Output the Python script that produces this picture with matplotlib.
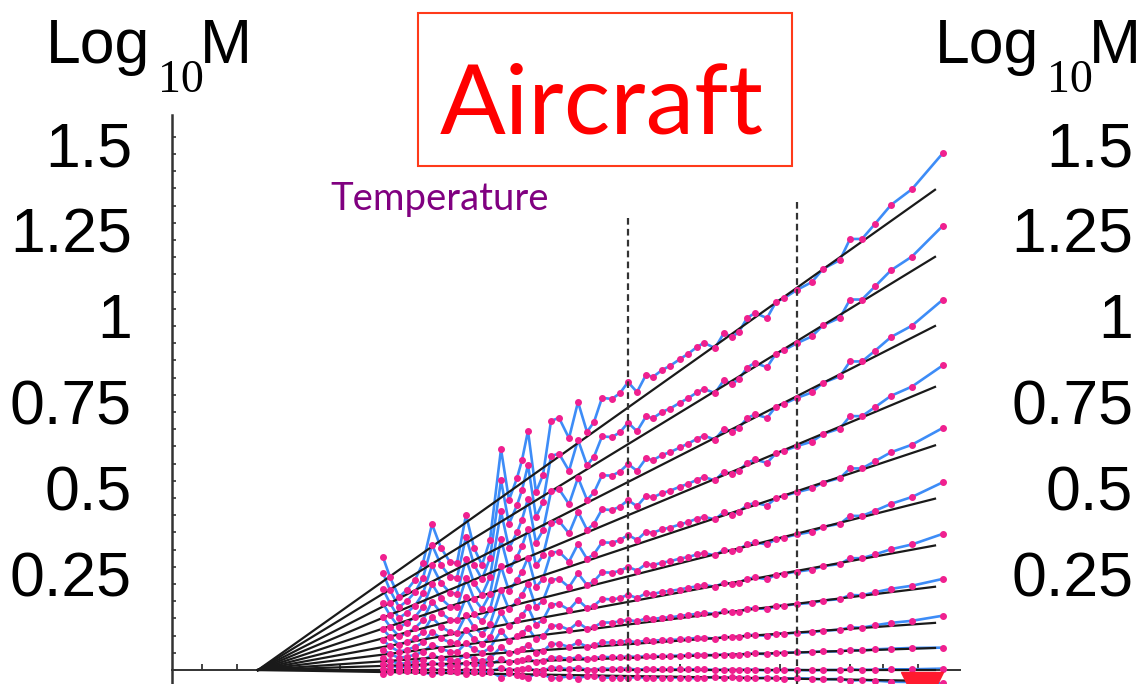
import matplotlib
matplotlib.use('Agg')
import matplotlib.pyplot as plt
from matplotlib import transforms
from matplotlib.patches import Rectangle
import numpy as np

# ---------------- data ----------------
x_vals = [2.11, 2.18, 2.27, 2.35, 2.43, 2.51, 2.60, 2.69, 2.78, 2.85, 2.94, 3.02, 3.10, 3.18,
          3.29, 3.37, 3.45, 3.50, 3.56, 3.64, 3.71, 3.79, 3.87, 3.97, 4.06, 4.15, 4.22, 4.30,
          4.40, 4.48, 4.56, 4.65, 4.74, 4.81, 4.90, 4.98, 5.08, 5.16, 5.25, 5.32, 5.43, 5.52,
          5.60, 5.67, 5.75, 5.83, 5.95, 6.04, 6.12, 6.25, 6.40, 6.51, 6.68, 6.78, 6.90, 7.03,
          7.19, 7.40, 7.71]

series_1 = [0.328, 0.270, 0.212, 0.233, 0.262, 0.311, 0.424, 0.355, 0.314, 0.311, 0.451, 0.355, 0.305, 0.378,
            0.642, 0.494, 0.558, 0.610, 0.695, 0.517, 0.567, 0.724, 0.733, 0.674, 0.779, 0.692, 0.721, 0.791,
            0.788, 0.805, 0.837, 0.808, 0.858, 0.852, 0.872, 0.884, 0.904, 0.919, 0.939, 0.951, 0.936, 0.980,
            0.968, 0.983, 1.023, 1.038, 1.023, 1.070, 1.081, 1.105, 1.128, 1.166, 1.192, 1.253, 1.253, 1.297,
            1.352, 1.398, 1.503]
series_2 = [0.282, 0.232, 0.183, 0.201, 0.226, 0.268, 0.364, 0.305, 0.271, 0.268, 0.388, 0.306, 0.264, 0.326,
            0.551, 0.425, 0.479, 0.523, 0.596, 0.445, 0.488, 0.622, 0.629, 0.579, 0.669, 0.595, 0.620, 0.679,
            0.677, 0.691, 0.719, 0.694, 0.737, 0.732, 0.750, 0.760, 0.777, 0.790, 0.807, 0.817, 0.805, 0.843,
            0.832, 0.845, 0.879, 0.893, 0.880, 0.920, 0.930, 0.950, 0.970, 1.002, 1.024, 1.077, 1.077, 1.115,
            1.162, 1.202, 1.292]
series_3 = [0.235, 0.194, 0.151, 0.167, 0.187, 0.223, 0.304, 0.253, 0.225, 0.222, 0.323, 0.253, 0.218, 0.270,
            0.461, 0.354, 0.400, 0.437, 0.498, 0.370, 0.406, 0.519, 0.526, 0.482, 0.559, 0.495, 0.516, 0.566,
            0.565, 0.577, 0.599, 0.579, 0.615, 0.610, 0.625, 0.633, 0.647, 0.658, 0.672, 0.681, 0.670, 0.702,
            0.693, 0.704, 0.732, 0.743, 0.733, 0.766, 0.774, 0.791, 0.807, 0.835, 0.854, 0.897, 0.897, 0.928,
            0.968, 1.001, 1.077]
series_4 = [0.194, 0.159, 0.124, 0.137, 0.154, 0.183, 0.250, 0.208, 0.184, 0.182, 0.266, 0.207, 0.178, 0.221,
            0.380, 0.291, 0.329, 0.360, 0.411, 0.304, 0.333, 0.428, 0.433, 0.397, 0.460, 0.408, 0.425, 0.467,
            0.465, 0.475, 0.494, 0.476, 0.506, 0.502, 0.514, 0.521, 0.533, 0.541, 0.553, 0.561, 0.551, 0.577,
            0.570, 0.579, 0.602, 0.612, 0.602, 0.630, 0.637, 0.651, 0.664, 0.686, 0.702, 0.738, 0.738, 0.764,
            0.797, 0.824, 0.886]
series_5 = [0.155, 0.126, 0.098, 0.108, 0.122, 0.145, 0.199, 0.166, 0.146, 0.144, 0.212, 0.164, 0.141, 0.176,
            0.302, 0.230, 0.262, 0.286, 0.327, 0.241, 0.265, 0.341, 0.344, 0.315, 0.366, 0.323, 0.337, 0.371,
            0.370, 0.377, 0.393, 0.378, 0.402, 0.399, 0.409, 0.414, 0.423, 0.430, 0.440, 0.445, 0.438, 0.459,
            0.452, 0.460, 0.479, 0.486, 0.478, 0.500, 0.506, 0.517, 0.528, 0.545, 0.558, 0.586, 0.586, 0.607,
            0.633, 0.655, 0.704]
series_6 = [0.119, 0.096, 0.074, 0.082, 0.092, 0.110, 0.153, 0.126, 0.110, 0.108, 0.161, 0.124, 0.105, 0.133,
            0.233, 0.176, 0.200, 0.219, 0.251, 0.183, 0.202, 0.262, 0.265, 0.241, 0.281, 0.247, 0.258, 0.284,
            0.283, 0.288, 0.300, 0.289, 0.308, 0.305, 0.312, 0.316, 0.324, 0.328, 0.336, 0.340, 0.333, 0.350,
            0.345, 0.351, 0.365, 0.371, 0.365, 0.381, 0.385, 0.394, 0.402, 0.416, 0.425, 0.448, 0.448, 0.463,
            0.483, 0.503, 0.546]
series_7 = [0.087, 0.069, 0.053, 0.059, 0.067, 0.080, 0.111, 0.092, 0.080, 0.078, 0.117, 0.090, 0.076, 0.096,
            0.169, 0.127, 0.145, 0.159, 0.183, 0.132, 0.146, 0.190, 0.192, 0.175, 0.204, 0.180, 0.187, 0.207,
            0.205, 0.209, 0.219, 0.209, 0.223, 0.221, 0.227, 0.230, 0.234, 0.239, 0.243, 0.247, 0.242, 0.254,
            0.250, 0.254, 0.265, 0.269, 0.264, 0.277, 0.280, 0.286, 0.292, 0.302, 0.308, 0.325, 0.325, 0.336,
            0.351, 0.365, 0.396]
series_8 = [0.058, 0.047, 0.035, 0.039, 0.044, 0.053, 0.074, 0.062, 0.053, 0.052, 0.078, 0.060, 0.050, 0.064,
            0.114, 0.085, 0.098, 0.107, 0.123, 0.089, 0.098, 0.128, 0.129, 0.117, 0.138, 0.120, 0.125, 0.138,
            0.138, 0.141, 0.146, 0.141, 0.150, 0.148, 0.152, 0.153, 0.157, 0.160, 0.163, 0.166, 0.163, 0.171,
            0.168, 0.170, 0.178, 0.180, 0.177, 0.185, 0.187, 0.192, 0.195, 0.202, 0.206, 0.218, 0.217, 0.226,
            0.236, 0.245, 0.265]
series_9 = [0.034, 0.027, 0.018, 0.020, 0.024, 0.029, 0.043, 0.034, 0.028, 0.027, 0.045, 0.032, 0.025, 0.034,
            0.067, 0.048, 0.055, 0.061, 0.073, 0.049, 0.055, 0.075, 0.076, 0.067, 0.080, 0.068, 0.072, 0.080,
            0.080, 0.081, 0.085, 0.080, 0.086, 0.085, 0.087, 0.087, 0.089, 0.091, 0.093, 0.094, 0.091, 0.096,
            0.095, 0.096, 0.101, 0.102, 0.099, 0.105, 0.106, 0.108, 0.110, 0.114, 0.117, 0.124, 0.123, 0.130,
            0.137, 0.143, 0.158]
series_10 = [0.016, 0.013, 0.008, 0.010, 0.011, 0.014, 0.021, 0.016, 0.013, 0.013, 0.021, 0.016, 0.012, 0.016,
             0.031, 0.023, 0.026, 0.029, 0.034, 0.023, 0.026, 0.035, 0.036, 0.032, 0.037, 0.032, 0.034, 0.038,
             0.037, 0.037, 0.039, 0.038, 0.040, 0.040, 0.040, 0.041, 0.042, 0.043, 0.044, 0.044, 0.043, 0.045,
             0.044, 0.045, 0.047, 0.048, 0.046, 0.049, 0.050, 0.051, 0.052, 0.054, 0.054, 0.058, 0.057, 0.060,
             0.062, 0.064, 0.065]
series_11 = [0.004, 0.000, -0.004, -0.004, -0.003, -0.001, 0.003, -0.001, -0.004, -0.005, 0.001, -0.005, -0.008, -0.005,
             0.007, -0.001, 0.001, 0.003, 0.007, -0.003, -0.001, 0.006, 0.006, 0.002, 0.006, 0.001, 0.001, 0.004,
             0.003, 0.003, 0.004, 0.001, 0.003, 0.002, 0.002, 0.002, 0.002, 0.002, 0.002, 0.002, 0.000, 0.001,
             0.000, 0.000, 0.001, 0.001, -0.001, 0.000, 0.000, 0.000, -0.001, 0.000, 0.000, 0.002, 0.000, 0.001,
             0.002, 0.002, 0.004]
series_12 = [-0.012, -0.006, -0.001, -0.001, -0.002, -0.006, -0.013, -0.007, -0.002, -0.001, -0.012, -0.003, 0.002, -0.003,
             -0.022, -0.010, -0.014, -0.017, -0.024, -0.008, -0.011, -0.024, -0.023, -0.018, -0.025, -0.016, -0.018, -0.022,
             -0.022, -0.022, -0.023, -0.020, -0.023, -0.022, -0.022, -0.022, -0.023, -0.023, -0.024, -0.023, -0.020, -0.024,
             -0.021, -0.022, -0.024, -0.024, -0.022, -0.024, -0.025, -0.024, -0.025, -0.027, -0.026, -0.031, -0.029, -0.031,
             -0.034, -0.035, -0.039]

all_series = [series_1, series_2, series_3, series_4, series_5, series_6,
              series_7, series_8, series_9, series_10, series_11, series_12]

# straight fit lines: common start, individual end values
fit_x_start = 0.86
fit_x_end = 7.63
fit_end_values = [1.396, 1.201, 1.000, 0.823, 0.653, 0.498, 0.362, 0.242, 0.137, 0.064, 0.000, -0.032]

# dashed reference lines
dash_x = [4.56, 6.25]
dash_top = [1.314, 1.360]

# red marker at the bottom right
red_marker_x = [7.50]
red_marker_y = [-0.068]

# axis ticks
y_minor_ticks = [round(0.05 * i, 2) for i in range(32)]
x_ticks = [0.30, 0.65, 1.68, 5.08, 6.08, 6.78, 7.11, 7.46]
y_label_values = [1.5, 1.25, 1.0, 0.75, 0.5, 0.25]
y_label_texts = ['1.5', '1.25', '1', '0.75', '0.5', '0.25']

# ---------------- figure ----------------
W, H = 1146, 684
fig = plt.figure(figsize=(W / 100, H / 100), dpi=100)
fig.patch.set_facecolor('white')
ax = fig.add_axes([172 / W, 0.0, (960 - 172) / W, (684 - 115) / H])
ax.set_xlim(0, 7.88)
ax.set_ylim(-0.0407, 1.6134)
ax.patch.set_alpha(0)

blue = '#3d8cf7'
pink = '#f0208f'

for ys in all_series:
    ax.plot(x_vals, ys, color=blue, lw=1.9, zorder=2, solid_joinstyle='round')
for end in fit_end_values:
    ax.plot([fit_x_start, fit_x_end], [0.0, end], color='#1a1a1a', lw=1.6, zorder=3)
for ys in all_series:
    ax.plot(x_vals, ys, linestyle='none', marker='o', markersize=4.0,
            markerfacecolor=pink, markeredgecolor=pink, zorder=4)

for xv, top in zip(dash_x, dash_top):
    ax.plot([xv, xv], [top, -0.0407], color='#333333', lw=1.6,
            dashes=(3.0, 1.9), zorder=5, clip_on=False)

ax.plot(red_marker_x, red_marker_y, linestyle='none', marker='v', markersize=30,
        color='#ff1a2e', clip_on=False, zorder=6)

# spines and ticks
for side in ['top', 'right']:
    ax.spines[side].set_visible(False)
ax.spines['bottom'].set_position(('data', 0))
ax.spines['left'].set_color('#333333')
ax.spines['left'].set_linewidth(1.8)
ax.spines['bottom'].set_color('#333333')
ax.spines['bottom'].set_linewidth(1.4)
ax.set_yticks(y_minor_ticks)
ax.set_yticklabels([])
ax.set_xticks(x_ticks)
ax.set_xticklabels([])
ax.tick_params(axis='y', direction='in', length=3, width=1.2, color='#333333')
ax.tick_params(axis='x', direction='in', length=4, width=1.2, color='#222222')

# big tick labels outside the axes on both sides
lab_trans = transforms.blended_transform_factory(fig.transFigure, ax.transData) + \
    transforms.ScaledTranslation(0, -12 / 100, fig.dpi_scale_trans)
for v, t in zip(y_label_values, y_label_texts):
    fig.text(132 / W, v, t, transform=lab_trans, ha='right', va='baseline',
             fontsize=45, family='Liberation Sans', color='black')
    fig.text(1133 / W, v, t, transform=lab_trans, ha='right', va='baseline',
             fontsize=45, family='Liberation Sans', color='black')

# Log10 M axis titles
for dx in [0, 889]:
    fig.text((46 + dx) / W, 1 - 63 / H, 'Log', fontsize=45, family='Liberation Sans',
             ha='left', va='baseline')
    fig.text((158 + dx) / W, 1 - 92 / H, '10', fontsize=33, family='Liberation Serif',
             ha='left', va='baseline')
    fig.text((200 + dx) / W, 1 - 63 / H, 'M', fontsize=45, family='Liberation Sans',
             ha='left', va='baseline')

# title box
fig.patches.append(Rectangle((418 / W, 1 - 166 / H), (792 - 418) / W, (166 - 13) / H,
                             transform=fig.transFigure, fill=False,
                             edgecolor='#ff3a1a', lw=1.5))
fig.text(602 / W, 1 - 133 / H, 'Aircraft', color='#ff0000', fontsize=70, family='Lato',
         ha='center', va='baseline')
fig.text(330 / W, 1 - 210 / H, 'Temperature', color='#800080', fontsize=27.5, family='Lato',
         ha='left', va='baseline')

fig.savefig('out.png', dpi=100)
